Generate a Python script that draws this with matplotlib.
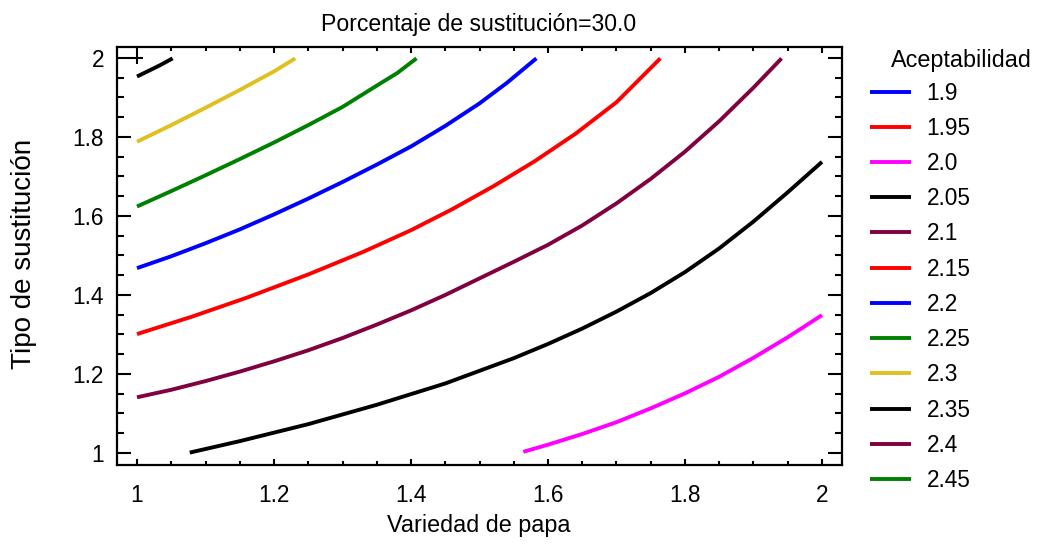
import matplotlib
matplotlib.use("Agg")
import matplotlib.pyplot as plt
import numpy as np

plt.rcParams['font.family'] = ['Liberation Sans', 'DejaVu Sans']

# contour lines (Variedad de papa, Tipo de sustitucion)
x_200 = [1.564, 1.60, 1.65, 1.70, 1.75, 1.80, 1.85, 1.90, 1.95, 2.00]
y_200 = [1.003, 1.021, 1.048, 1.078, 1.113, 1.151, 1.193, 1.241, 1.293, 1.349]

x_205 = [1.077, 1.15, 1.25, 1.35, 1.45, 1.55, 1.60, 1.65, 1.70, 1.75, 1.80, 1.85, 1.90, 1.95, 2.00]
y_205 = [1.001, 1.030, 1.073, 1.122, 1.176, 1.240, 1.276, 1.315, 1.358, 1.405, 1.458, 1.518,
         1.586, 1.660, 1.737]

x_210 = [1.000, 1.05, 1.10, 1.15, 1.20, 1.25, 1.30, 1.35, 1.40, 1.45, 1.50, 1.55, 1.60,
         1.65, 1.70, 1.75, 1.80, 1.85, 1.90, 1.941]
y_210 = [1.141, 1.160, 1.182, 1.206, 1.232, 1.260, 1.291, 1.325, 1.361, 1.400, 1.442, 1.484,
         1.527, 1.576, 1.632, 1.694, 1.763, 1.840, 1.925, 1.999]

x_215 = [1.000, 1.08, 1.16, 1.25, 1.33, 1.40, 1.46, 1.52, 1.58, 1.64, 1.70, 1.764]
y_215 = [1.301, 1.345, 1.393, 1.452, 1.509, 1.564, 1.617, 1.675, 1.738, 1.808, 1.888, 1.999]

x_220 = [1.000, 1.05, 1.10, 1.15, 1.20, 1.25, 1.30, 1.35, 1.40, 1.45, 1.50, 1.54, 1.583]
y_220 = [1.468, 1.498, 1.531, 1.566, 1.604, 1.644, 1.686, 1.730, 1.776, 1.828, 1.885, 1.937,
         1.999]

x_225 = [1.000, 1.05, 1.10, 1.15, 1.20, 1.25, 1.30, 1.35, 1.38, 1.408]
y_225 = [1.624, 1.663, 1.703, 1.744, 1.786, 1.830, 1.876, 1.930, 1.962, 1.999]

x_230 = [1.000, 1.05, 1.10, 1.15, 1.20, 1.231]
y_230 = [1.788, 1.830, 1.874, 1.919, 1.966, 1.999]

x_235 = [1.000, 1.034, 1.052]
y_235 = [1.953, 1.982, 1.999]

levels = ['1.9', '1.95', '2.0', '2.05', '2.1', '2.15', '2.2', '2.25', '2.3', '2.35', '2.4', '2.45']
colors = ['#0000FF', '#FF0000', '#FF00FF', '#000000', '#800040', '#FF0000',
          '#0000FF', '#008000', '#E0C020', '#000000', '#800040', '#008000']
curves = {'2.0': (x_200, y_200), '2.05': (x_205, y_205), '2.1': (x_210, y_210),
          '2.15': (x_215, y_215), '2.2': (x_220, y_220), '2.25': (x_225, y_225),
          '2.3': (x_230, y_230), '2.35': (x_235, y_235)}

xticks = [1.0, 1.2, 1.4, 1.6, 1.8, 2.0]
xticklabels = ['1', '1.2', '1.4', '1.6', '1.8', '2']
yticks = [1.0, 1.2, 1.4, 1.6, 1.8, 2.0]
yticklabels = ['1', '1.2', '1.4', '1.6', '1.8', '2']

fig = plt.figure(figsize=(10.41, 5.45), dpi=100)
ax = fig.add_axes([117/1041, 1-465/545, 725/1041, 418/545])

for lev, col in zip(levels, colors):
    if lev in curves:
        xs, ys = curves[lev]
    else:
        xs, ys = [], []
    ax.plot(xs, ys, color=col, lw=2.8, label=lev, solid_capstyle='butt')

ax.plot([1.0], [2.0], marker='+', color='black', ms=9, mew=1.5, ls='none')

ax.set_xlim(0.9708, 2.0292)
ax.set_ylim(0.9696, 2.0278)
ax.set_xticks(xticks)
ax.set_xticklabels(xticklabels)
ax.set_yticks(yticks)
ax.set_yticklabels(yticklabels)
ax.set_xticks(np.arange(1.05, 2.0, 0.05), minor=True)
ax.set_yticks(np.arange(1.05, 2.0, 0.05), minor=True)

for s in ax.spines.values():
    s.set_linewidth(1.6)
ax.tick_params(axis='x', which='both', direction='in', top=True, bottom=True,
               width=1.5, labelsize=16.3, pad=14)
ax.tick_params(axis='x', which='major', length=4.5)
ax.tick_params(axis='x', which='minor', length=3)
ax.tick_params(axis='y', which='both', direction='in', left=True, right=True,
               width=1.5, labelsize=16.3, pad=9.4)
ax.tick_params(axis='y', which='major', length=10)
ax.tick_params(axis='y', which='minor', length=5)

fig.text(478.7/1041, 1-30.7/545, 'Porcentaje de sustitución=30.0', ha='center',
         va='baseline', fontsize=16.6)
fig.text(479/1041, 1-532/545, 'Variedad de papa', ha='center', va='baseline', fontsize=16.8)
fig.text(24.5/1041, 1-254/545, 'Tipo de sustitución', ha='center', va='center',
         rotation=90, fontsize=20)

fig.text(961/1041, 1-60/545, 'Aceptabilidad', ha='center', va='center', fontsize=16.8)
ax.legend(loc='upper left', bbox_to_anchor=(870/1041, 1-81.5/545),
          bbox_transform=fig.transFigure, frameon=False, fontsize=16.3,
          borderpad=0, borderaxespad=0, handlelength=1.8, handletextpad=0.7,
          labelspacing=0.54)

fig.savefig('out.png', dpi=100)
